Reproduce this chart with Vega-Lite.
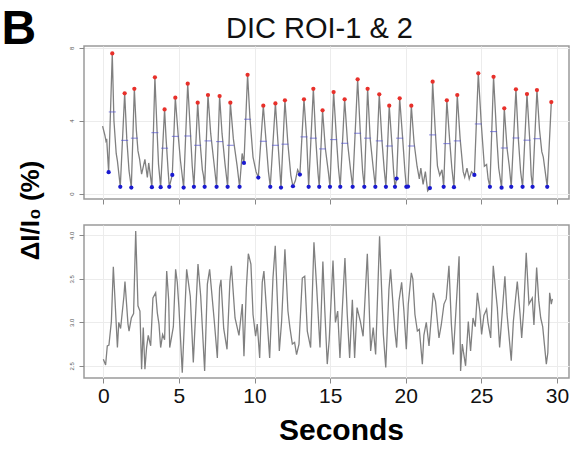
{
  "$schema": "https://vega.github.io/schema/vega-lite/v6.json",
  "background": "white",
  "padding": {"left": 0, "top": 4, "right": 0, "bottom": 0},
  "config": {
    "font": "Liberation Sans",
    "view": {"stroke": "#9a9a9a", "strokeWidth": 1.5},
    "axis": {"grid": true, "gridColor": "#ececec", "gridWidth": 1, "domain": false, "tickColor": "#888888", "tickSize": 5, "labelColor": "#222222", "labelOverlap": false, "labelFlush": false}
  },
  "bounds": "flush",
  "spacing": 26,
  "datasets": {
    "top": [
      {"t": -0.05, "v": 3.7}, {"t": 0.1, "v": 3.2}, {"t": 0.17, "v": 2.89}, {"t": 0.22, "v": 3.0}, {"t": 0.35, "v": 1.17},
      {"t": 0.59, "v": 7.69}, {"t": 0.7, "v": 4.0}, {"t": 0.85, "v": 2.2}, {"t": 0.93, "v": 1.79}, {"t": 1.12, "v": 0.37},
      {"t": 1.41, "v": 5.5}, {"t": 1.55, "v": 3.0}, {"t": 1.7, "v": 1.24}, {"t": 1.85, "v": 0.33},
      {"t": 2.05, "v": 5.75}, {"t": 2.18, "v": 3.5}, {"t": 2.29, "v": 2.34}, {"t": 2.4, "v": 1.88}, {"t": 2.53, "v": 1.06}, {"t": 2.65, "v": 1.5}, {"t": 2.75, "v": 1.88}, {"t": 2.91, "v": 0.88}, {"t": 3.0, "v": 1.68}, {"t": 3.21, "v": 0.35},
      {"t": 3.41, "v": 6.38}, {"t": 3.55, "v": 3.5}, {"t": 3.65, "v": 1.6}, {"t": 3.79, "v": 0.35},
      {"t": 4.05, "v": 4.62}, {"t": 4.15, "v": 3.0}, {"t": 4.28, "v": 1.3}, {"t": 4.36, "v": 0.37}, {"t": 4.56, "v": 1.02},
      {"t": 4.76, "v": 5.26}, {"t": 4.95, "v": 3.2}, {"t": 5.1, "v": 1.8}, {"t": 5.31, "v": 0.33},
      {"t": 5.58, "v": 6.03}, {"t": 5.75, "v": 3.5}, {"t": 5.88, "v": 1.5}, {"t": 5.99, "v": 0.37},
      {"t": 6.24, "v": 4.99}, {"t": 6.38, "v": 3.0}, {"t": 6.55, "v": 1.3}, {"t": 6.62, "v": 1.0}, {"t": 6.7, "v": 0.37},
      {"t": 6.92, "v": 5.41}, {"t": 7.1, "v": 3.3}, {"t": 7.3, "v": 1.8}, {"t": 7.49, "v": 0.37},
      {"t": 7.69, "v": 5.35}, {"t": 7.85, "v": 3.3}, {"t": 8.05, "v": 1.6}, {"t": 8.22, "v": 0.37},
      {"t": 8.4, "v": 4.99}, {"t": 8.6, "v": 3.0}, {"t": 8.85, "v": 1.5}, {"t": 9.01, "v": 0.37}, {"t": 9.18, "v": 2.2}, {"t": 9.3, "v": 1.68},
      {"t": 9.54, "v": 6.52}, {"t": 9.7, "v": 4.1}, {"t": 9.9, "v": 2.0}, {"t": 10.1, "v": 1.2}, {"t": 10.25, "v": 0.88},
      {"t": 10.58, "v": 4.82}, {"t": 10.75, "v": 3.0}, {"t": 10.92, "v": 1.2}, {"t": 11.04, "v": 0.37},
      {"t": 11.38, "v": 4.95}, {"t": 11.55, "v": 2.8}, {"t": 11.68, "v": 1.2}, {"t": 11.75, "v": 0.33},
      {"t": 12.01, "v": 5.12}, {"t": 12.2, "v": 2.8}, {"t": 12.4, "v": 1.0}, {"t": 12.54, "v": 0.4}, {"t": 12.7, "v": 0.7}, {"t": 12.85, "v": 1.3}, {"t": 13.0, "v": 1.04},
      {"t": 13.27, "v": 5.17}, {"t": 13.45, "v": 3.0}, {"t": 13.58, "v": 0.37},
      {"t": 13.89, "v": 5.75}, {"t": 14.05, "v": 3.0}, {"t": 14.2, "v": 1.1}, {"t": 14.28, "v": 0.37},
      {"t": 14.5, "v": 4.57}, {"t": 14.68, "v": 2.5}, {"t": 14.88, "v": 1.2}, {"t": 14.99, "v": 0.37},
      {"t": 15.23, "v": 5.57}, {"t": 15.42, "v": 3.0}, {"t": 15.55, "v": 1.4}, {"t": 15.67, "v": 0.37},
      {"t": 15.96, "v": 5.17}, {"t": 16.15, "v": 2.8}, {"t": 16.35, "v": 1.3}, {"t": 16.49, "v": 0.37},
      {"t": 16.82, "v": 6.27}, {"t": 17.0, "v": 3.3}, {"t": 17.15, "v": 1.2}, {"t": 17.26, "v": 0.37},
      {"t": 17.48, "v": 5.75}, {"t": 17.65, "v": 3.0}, {"t": 17.85, "v": 1.4}, {"t": 17.99, "v": 0.37},
      {"t": 18.25, "v": 5.45}, {"t": 18.42, "v": 3.0}, {"t": 18.58, "v": 1.3}, {"t": 18.69, "v": 0.37},
      {"t": 18.91, "v": 4.82}, {"t": 19.08, "v": 2.8}, {"t": 19.2, "v": 1.2}, {"t": 19.29, "v": 0.37}, {"t": 19.4, "v": 0.82},
      {"t": 19.6, "v": 5.23}, {"t": 19.8, "v": 3.0}, {"t": 19.95, "v": 1.2}, {"t": 20.04, "v": 0.37}, {"t": 20.15, "v": 0.38},
      {"t": 20.37, "v": 4.82}, {"t": 20.55, "v": 2.8}, {"t": 20.75, "v": 1.5}, {"t": 20.9, "v": 0.8}, {"t": 21.0, "v": 1.4}, {"t": 21.15, "v": 0.5}, {"t": 21.3, "v": 1.2}, {"t": 21.45, "v": 0.15}, {"t": 21.6, "v": 0.3},
      {"t": 21.78, "v": 6.14}, {"t": 21.95, "v": 3.5}, {"t": 22.1, "v": 1.5}, {"t": 22.25, "v": 1.0}, {"t": 22.4, "v": 1.3}, {"t": 22.51, "v": 0.37},
      {"t": 22.72, "v": 5.12}, {"t": 22.9, "v": 3.0}, {"t": 23.05, "v": 1.4}, {"t": 23.19, "v": 0.35},
      {"t": 23.41, "v": 5.41}, {"t": 23.6, "v": 3.0}, {"t": 23.8, "v": 1.2}, {"t": 23.9, "v": 0.9}, {"t": 24.05, "v": 1.4}, {"t": 24.2, "v": 0.8}, {"t": 24.35, "v": 1.2}, {"t": 24.54, "v": 1.02},
      {"t": 24.8, "v": 6.6}, {"t": 25.0, "v": 3.8}, {"t": 25.2, "v": 1.5}, {"t": 25.35, "v": 1.6}, {"t": 25.45, "v": 0.8}, {"t": 25.57, "v": 0.37},
      {"t": 25.81, "v": 6.41}, {"t": 26.0, "v": 3.4}, {"t": 26.15, "v": 1.4}, {"t": 26.34, "v": 0.32},
      {"t": 26.52, "v": 4.68}, {"t": 26.7, "v": 2.5}, {"t": 26.85, "v": 1.5}, {"t": 26.98, "v": 0.37},
      {"t": 27.29, "v": 5.72}, {"t": 27.45, "v": 3.0}, {"t": 27.6, "v": 1.2}, {"t": 27.73, "v": 0.37},
      {"t": 28.02, "v": 5.46}, {"t": 28.2, "v": 3.0}, {"t": 28.3, "v": 1.0}, {"t": 28.39, "v": 0.37},
      {"t": 28.68, "v": 5.68}, {"t": 28.85, "v": 3.5}, {"t": 29.0, "v": 2.3}, {"t": 29.1, "v": 2.0}, {"t": 29.36, "v": 0.37},
      {"t": 29.63, "v": 5.02}
    ],
    "peaks": [
      {"t": 0.59, "v": 7.69}, {"t": 1.41, "v": 5.5}, {"t": 2.05, "v": 5.75}, {"t": 3.41, "v": 6.38}, {"t": 4.05, "v": 4.62},
      {"t": 4.76, "v": 5.26}, {"t": 5.58, "v": 6.03}, {"t": 6.24, "v": 4.99}, {"t": 6.92, "v": 5.41}, {"t": 7.69, "v": 5.35},
      {"t": 8.4, "v": 4.99}, {"t": 9.54, "v": 6.52}, {"t": 10.58, "v": 4.82}, {"t": 11.38, "v": 4.95}, {"t": 12.01, "v": 5.12},
      {"t": 13.27, "v": 5.17}, {"t": 13.89, "v": 5.75}, {"t": 14.5, "v": 4.57}, {"t": 15.23, "v": 5.57}, {"t": 15.96, "v": 5.17},
      {"t": 16.82, "v": 6.27}, {"t": 17.48, "v": 5.75}, {"t": 18.25, "v": 5.45}, {"t": 18.91, "v": 4.82}, {"t": 19.6, "v": 5.23},
      {"t": 20.37, "v": 4.82}, {"t": 21.78, "v": 6.14}, {"t": 22.72, "v": 5.12}, {"t": 23.41, "v": 5.41}, {"t": 24.8, "v": 6.6},
      {"t": 25.81, "v": 6.41}, {"t": 26.52, "v": 4.68}, {"t": 27.29, "v": 5.72}, {"t": 28.02, "v": 5.46}, {"t": 28.68, "v": 5.68},
      {"t": 29.63, "v": 5.02}
    ],
    "troughs": [
      {"t": 0.35, "v": 1.17}, {"t": 1.12, "v": 0.37}, {"t": 1.85, "v": 0.33}, {"t": 3.21, "v": 0.35}, {"t": 3.79, "v": 0.35},
      {"t": 4.36, "v": 0.37}, {"t": 4.56, "v": 1.02}, {"t": 5.31, "v": 0.33}, {"t": 5.99, "v": 0.37}, {"t": 6.7, "v": 0.37},
      {"t": 7.49, "v": 0.37}, {"t": 8.22, "v": 0.37}, {"t": 9.01, "v": 0.37}, {"t": 9.3, "v": 1.68}, {"t": 10.25, "v": 0.88},
      {"t": 11.04, "v": 0.37}, {"t": 11.75, "v": 0.33}, {"t": 12.54, "v": 0.4}, {"t": 13.0, "v": 1.04}, {"t": 13.58, "v": 0.37},
      {"t": 14.28, "v": 0.37}, {"t": 14.99, "v": 0.37}, {"t": 15.67, "v": 0.37}, {"t": 16.49, "v": 0.37}, {"t": 17.26, "v": 0.37},
      {"t": 17.99, "v": 0.37}, {"t": 18.69, "v": 0.37}, {"t": 19.29, "v": 0.37}, {"t": 19.4, "v": 0.82}, {"t": 20.04, "v": 0.37},
      {"t": 20.15, "v": 0.38}, {"t": 21.6, "v": 0.3}, {"t": 22.51, "v": 0.37}, {"t": 23.19, "v": 0.35}, {"t": 24.54, "v": 1.02},
      {"t": 25.57, "v": 0.37}, {"t": 26.34, "v": 0.32}, {"t": 26.98, "v": 0.37}, {"t": 27.73, "v": 0.37}, {"t": 28.39, "v": 0.37},
      {"t": 29.36, "v": 0.37}
    ],
    "mids": [
      {"t": 0.59, "v": 4.48}, {"t": 1.41, "v": 2.92}, {"t": 2.05, "v": 3.04}, {"t": 3.41, "v": 3.34}, {"t": 4.05, "v": 2.49},
      {"t": 4.76, "v": 3.14}, {"t": 5.58, "v": 3.16}, {"t": 6.24, "v": 2.65}, {"t": 6.92, "v": 2.89}, {"t": 7.69, "v": 2.85},
      {"t": 8.4, "v": 2.65}, {"t": 9.54, "v": 4.08}, {"t": 10.58, "v": 2.87}, {"t": 11.38, "v": 2.65}, {"t": 12.01, "v": 2.71},
      {"t": 13.27, "v": 3.11}, {"t": 13.89, "v": 3.04}, {"t": 14.5, "v": 2.45}, {"t": 15.23, "v": 2.96}, {"t": 15.96, "v": 2.76},
      {"t": 16.82, "v": 3.31}, {"t": 17.48, "v": 3.04}, {"t": 18.25, "v": 2.89}, {"t": 18.91, "v": 2.61}, {"t": 19.6, "v": 3.04},
      {"t": 20.37, "v": 2.61}, {"t": 21.78, "v": 3.22}, {"t": 22.72, "v": 2.74}, {"t": 23.41, "v": 2.89}, {"t": 24.8, "v": 3.82},
      {"t": 25.81, "v": 3.4}, {"t": 26.52, "v": 2.5}, {"t": 27.29, "v": 3.05}, {"t": 28.02, "v": 2.93}, {"t": 28.68, "v": 3.01}
    ],
    "bottom": [
      {"t": 0.0, "v": 2.575}, {"t": 0.15, "v": 2.51}, {"t": 0.26, "v": 2.73}, {"t": 0.37, "v": 2.74}, {"t": 0.53, "v": 3.01}, {"t": 0.66, "v": 3.64},
      {"t": 0.93, "v": 2.71}, {"t": 1.02, "v": 3.0}, {"t": 1.14, "v": 2.93}, {"t": 1.36, "v": 3.3}, {"t": 1.43, "v": 3.47}, {"t": 1.63, "v": 2.98},
      {"t": 1.7, "v": 2.9}, {"t": 1.85, "v": 3.05}, {"t": 2.0, "v": 3.1}, {"t": 2.14, "v": 4.05}, {"t": 2.29, "v": 3.19}, {"t": 2.42, "v": 3.13},
      {"t": 2.53, "v": 2.46}, {"t": 2.64, "v": 2.94}, {"t": 2.75, "v": 2.46}, {"t": 2.86, "v": 2.71}, {"t": 2.97, "v": 2.85}, {"t": 3.13, "v": 2.73},
      {"t": 3.28, "v": 3.28}, {"t": 3.46, "v": 3.34}, {"t": 3.57, "v": 3.11}, {"t": 3.68, "v": 2.98}, {"t": 3.79, "v": 2.71}, {"t": 3.92, "v": 2.86},
      {"t": 4.05, "v": 2.8}, {"t": 4.19, "v": 3.59}, {"t": 4.32, "v": 3.26}, {"t": 4.39, "v": 2.71}, {"t": 4.54, "v": 2.86}, {"t": 4.63, "v": 2.95},
      {"t": 4.78, "v": 3.61}, {"t": 4.89, "v": 3.46}, {"t": 5.0, "v": 3.17}, {"t": 5.22, "v": 2.42}, {"t": 5.51, "v": 3.61}, {"t": 5.75, "v": 3.3},
      {"t": 5.95, "v": 2.54}, {"t": 6.26, "v": 3.67}, {"t": 6.44, "v": 3.3}, {"t": 6.7, "v": 2.44}, {"t": 6.88, "v": 3.44}, {"t": 7.03, "v": 3.61},
      {"t": 7.32, "v": 3.05}, {"t": 7.54, "v": 2.59}, {"t": 7.69, "v": 3.4}, {"t": 7.78, "v": 3.49}, {"t": 7.96, "v": 2.93}, {"t": 8.18, "v": 2.69},
      {"t": 8.37, "v": 3.47}, {"t": 8.47, "v": 3.65}, {"t": 8.71, "v": 3.05}, {"t": 8.97, "v": 2.85}, {"t": 9.19, "v": 3.21}, {"t": 9.3, "v": 2.61},
      {"t": 9.46, "v": 3.4}, {"t": 9.59, "v": 3.79}, {"t": 9.76, "v": 3.67}, {"t": 9.9, "v": 3.09}, {"t": 10.07, "v": 2.84}, {"t": 10.18, "v": 2.98},
      {"t": 10.34, "v": 2.59}, {"t": 10.51, "v": 3.46}, {"t": 10.62, "v": 3.59}, {"t": 10.78, "v": 3.17}, {"t": 11.0, "v": 2.59}, {"t": 11.22, "v": 3.51},
      {"t": 11.37, "v": 3.88}, {"t": 11.5, "v": 3.3}, {"t": 11.64, "v": 2.67}, {"t": 11.79, "v": 3.01}, {"t": 12.01, "v": 3.84}, {"t": 12.21, "v": 3.13},
      {"t": 12.34, "v": 2.94}, {"t": 12.5, "v": 2.75}, {"t": 12.65, "v": 2.77}, {"t": 12.78, "v": 2.63}, {"t": 12.94, "v": 2.75}, {"t": 13.16, "v": 3.51},
      {"t": 13.32, "v": 3.53}, {"t": 13.49, "v": 2.9}, {"t": 13.71, "v": 2.71}, {"t": 13.93, "v": 3.92}, {"t": 14.11, "v": 3.4}, {"t": 14.33, "v": 2.71},
      {"t": 14.52, "v": 3.7}, {"t": 14.65, "v": 3.13}, {"t": 14.81, "v": 2.52}, {"t": 14.94, "v": 2.8}, {"t": 15.19, "v": 3.71}, {"t": 15.35, "v": 3.0},
      {"t": 15.5, "v": 3.13}, {"t": 15.65, "v": 2.59}, {"t": 15.8, "v": 3.13}, {"t": 15.98, "v": 3.74}, {"t": 16.13, "v": 3.1}, {"t": 16.29, "v": 2.59},
      {"t": 16.47, "v": 3.26}, {"t": 16.62, "v": 2.59}, {"t": 16.78, "v": 3.17}, {"t": 17.0, "v": 3.01}, {"t": 17.18, "v": 2.84}, {"t": 17.46, "v": 3.79},
      {"t": 17.56, "v": 3.3}, {"t": 17.68, "v": 2.67}, {"t": 17.85, "v": 2.94}, {"t": 18.01, "v": 2.63}, {"t": 18.27, "v": 3.99}, {"t": 18.52, "v": 2.86},
      {"t": 18.68, "v": 2.48}, {"t": 18.89, "v": 3.38}, {"t": 19.0, "v": 3.61}, {"t": 19.2, "v": 3.1}, {"t": 19.27, "v": 2.92}, {"t": 19.4, "v": 2.71},
      {"t": 19.55, "v": 3.24}, {"t": 19.73, "v": 3.46}, {"t": 19.88, "v": 3.13}, {"t": 20.04, "v": 2.69}, {"t": 20.17, "v": 3.21}, {"t": 20.37, "v": 3.57},
      {"t": 20.47, "v": 3.5}, {"t": 20.61, "v": 3.09}, {"t": 20.77, "v": 2.9}, {"t": 20.9, "v": 2.92}, {"t": 21.1, "v": 2.52}, {"t": 21.2, "v": 2.85},
      {"t": 21.36, "v": 3.0}, {"t": 21.54, "v": 2.73}, {"t": 21.82, "v": 3.34}, {"t": 21.97, "v": 3.24}, {"t": 22.2, "v": 2.82}, {"t": 22.35, "v": 2.97},
      {"t": 22.53, "v": 3.21}, {"t": 22.68, "v": 3.27}, {"t": 22.86, "v": 3.65}, {"t": 23.02, "v": 2.98}, {"t": 23.15, "v": 2.63}, {"t": 23.32, "v": 3.13},
      {"t": 23.53, "v": 3.76}, {"t": 23.63, "v": 2.44}, {"t": 23.74, "v": 2.75}, {"t": 23.96, "v": 2.5}, {"t": 24.14, "v": 3.01}, {"t": 24.29, "v": 2.67},
      {"t": 24.45, "v": 3.05}, {"t": 24.6, "v": 2.95}, {"t": 24.74, "v": 3.34}, {"t": 24.9, "v": 3.13}, {"t": 25.02, "v": 2.86}, {"t": 25.17, "v": 3.08},
      {"t": 25.35, "v": 3.15}, {"t": 25.44, "v": 3.0}, {"t": 25.62, "v": 2.82}, {"t": 25.79, "v": 3.65}, {"t": 25.95, "v": 3.36}, {"t": 26.06, "v": 3.17},
      {"t": 26.21, "v": 2.71}, {"t": 26.39, "v": 3.13}, {"t": 26.56, "v": 3.53}, {"t": 26.7, "v": 3.1}, {"t": 26.98, "v": 2.56}, {"t": 27.12, "v": 3.01},
      {"t": 27.27, "v": 3.28}, {"t": 27.38, "v": 3.47}, {"t": 27.56, "v": 3.1}, {"t": 27.67, "v": 2.82}, {"t": 27.8, "v": 3.13}, {"t": 27.97, "v": 3.8},
      {"t": 28.15, "v": 3.21}, {"t": 28.37, "v": 3.28}, {"t": 28.48, "v": 2.97}, {"t": 28.66, "v": 3.63}, {"t": 28.8, "v": 3.25}, {"t": 28.93, "v": 3.05},
      {"t": 29.06, "v": 2.95}, {"t": 29.3, "v": 2.52}, {"t": 29.4, "v": 2.65}, {"t": 29.52, "v": 3.34}, {"t": 29.63, "v": 3.21}, {"t": 29.7, "v": 3.27}
    ]
  },
  "vconcat": [
    {
      "width": 485,
      "height": 153,
      "resolve": {"axis": {"x": "independent"}},
      "layer": [
        {
          "data": {"name": "top"},
          "mark": {"type": "line", "color": "#808080", "strokeWidth": 1.3},
          "encoding": {
            "x": {"field": "t", "type": "quantitative", "scale": {"domain": [-1.28, 30.8], "nice": false, "zero": false},
                  "axis": {"values": [0, 5, 10, 15, 20, 25, 30], "labels": false, "title": null}},
            "y": {"field": "v", "type": "quantitative", "scale": {"domain": [-0.3, 8.1], "nice": false, "zero": false},
                  "axis": {"values": [0, 2, 4, 6, 8], "labelOverlap": false, "labelFlush": false, "labelAngle": -90, "labelFontSize": 6, "labelColor": "#555555", "labelAlign": "center", "labelBaseline": "bottom", "labelPadding": 5, "tickSize": 5,
                           "title": "B", "titleAngle": 0, "titleFontSize": 48, "titleFontWeight": "bold", "titleColor": "#000000", "titleX": -83, "titleY": -41, "titleAlign": "left", "titleBaseline": "top"}}
          }
        },
        {
          "data": {"name": "mids"},
          "mark": {"type": "tick", "orient": "horizontal", "color": "#5050d0", "size": 7, "thickness": 1},
          "encoding": {"x": {"field": "t", "type": "quantitative", "axis": null}, "y": {"field": "v", "type": "quantitative"}}
        },
        {
          "data": {"name": "peaks"},
          "mark": {"type": "circle", "color": "#e8302a", "size": 18, "opacity": 1},
          "encoding": {
            "x": {"field": "t", "type": "quantitative",
                  "axis": {"orient": "top", "grid": false, "ticks": false, "labels": false, "domain": false,
                           "title": "DIC ROI-1 & 2", "titleFontSize": 29, "titleFontWeight": "normal", "titleColor": "#111111", "titleX": 235, "titleY": -9, "titleAlign": "center", "titleBaseline": "alphabetic"}},
            "y": {"field": "v", "type": "quantitative"}
          }
        },
        {
          "data": {"name": "troughs"},
          "mark": {"type": "circle", "color": "#1a1ad0", "size": 18, "opacity": 1},
          "encoding": {"x": {"field": "t", "type": "quantitative", "axis": null}, "y": {"field": "v", "type": "quantitative"}}
        }
      ]
    },
    {
      "width": 485,
      "height": 153,
      "data": {"name": "bottom"},
      "mark": {"type": "line", "color": "#808080", "strokeWidth": 1.3},
      "encoding": {
        "x": {"field": "t", "type": "quantitative", "scale": {"domain": [-1.28, 30.8], "nice": false, "zero": false},
              "axis": {"values": [0, 5, 10, 15, 20, 25, 30], "labelFontSize": 21, "labelColor": "#111111", "labelPadding": 2,
                       "title": "Seconds", "titleFontSize": 30, "titleFontWeight": "bold", "titleColor": "#000000", "titleX": 257, "titleY": 61, "titleAlign": "center", "titleBaseline": "alphabetic"}},
        "y": {"field": "v", "type": "quantitative", "scale": {"domain": [2.36, 4.12], "nice": false, "zero": false},
              "axis": {"values": [2.5, 3.0, 3.5, 4.0], "format": ".1f", "labelOverlap": false, "labelFlush": false, "labelAngle": -90, "labelFontSize": 6, "labelColor": "#555555", "labelAlign": "center", "labelBaseline": "bottom", "labelPadding": 5, "tickSize": 5,
                       "title": "ΔI/I₀ (%)", "titleFontSize": 26, "titleFontWeight": "bold", "titleColor": "#000000", "titleX": -54, "titleY": -15, "titleAngle": -90, "titleAlign": "center", "titleBaseline": "middle"}}
      }
    }
  ]
}
